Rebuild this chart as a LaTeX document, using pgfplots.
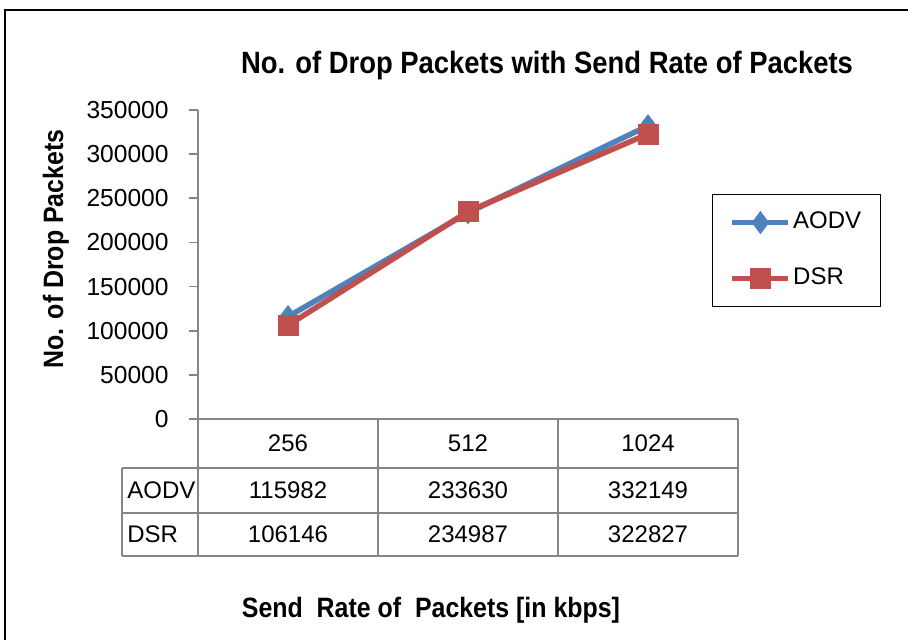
\documentclass[border=0pt]{standalone}
\usepackage{fontspec}
\setmainfont{Liberation Sans}
\newfontfamily\boldcond[FakeStretch=0.89]{Liberation Sans Bold}
\usepackage{pgfplots}
\pgfplotsset{compat=1.18}
\definecolor{aodv}{HTML}{4F81BD}
\definecolor{dsr}{HTML}{C0504D}
\definecolor{axgray}{HTML}{868686}
\begin{document}
\begin{tikzpicture}
\useasboundingbox (0pt,0pt) rectangle (454pt,-319.5pt);
\begin{scope}[x=0.5pt,y=-0.5pt]
  \draw[line width=1.2pt] (5,680)--(5,10)--(940,10);
  % title and labels
  \node[anchor=base,inner sep=0pt,font=\boldcond\fontsize{15.4}{18}\selectfont] at (547,73) {No. of Drop Packets with Send Rate of Packets};
  \node[anchor=base,inner sep=0pt,rotate=90,font=\boldcond\fontsize{14}{17}\selectfont] at (63,249) {No. of Drop Packets};
  \node[anchor=base,inner sep=0pt,font=\boldcond\fontsize{14}{17}\selectfont] at (431,617) {Send\ \ Rate of\ \ Packets [in kbps]};
  % data table grid
  \begin{scope}[draw=axgray,line width=0.9pt]
    \draw (198,419)--(738,419);
    \draw (122,468)--(738,468);
    \draw (122,513)--(738,513);
    \draw (122,556)--(738,556);
    \draw (122,468)--(122,556);
    \draw (198,419)--(198,556);
    \draw (378,419)--(378,556);
    \draw (558,419)--(558,556);
    \draw (738,419)--(738,556);
  \end{scope}
  \begin{scope}[every node/.style={font=\fontsize{12}{14}\selectfont,inner sep=0pt}]
    \node at (288,443.5) {256};
    \node at (468,443.5) {512};
    \node at (648,443.5) {1024};
    \node[anchor=west] at (127,490.5) {AODV};
    \node[anchor=west] at (127,534.5) {DSR};
    \node at (288,490.5) {115982};
    \node at (468,490.5) {233630};
    \node at (648,490.5) {332149};
    \node at (288,534.5) {106146};
    \node at (468,534.5) {234987};
    \node at (648,534.5) {322827};
  \end{scope}
\end{scope}
\begin{axis}[
  at={(99pt,-209.5pt)}, anchor=south west,
  scale only axis, width=270pt, height=154.5pt,
  xmin=0, xmax=3, ymin=0, ymax=350000,
  axis x line=none, axis y line*=left,
  y axis line style={axgray,line width=0.9pt},
  ytick={0,50000,...,350000},
  tick align=outside, major tick length=4.5pt,
  ytick style={axgray,line width=0.9pt},
  scaled y ticks=false,
  yticklabel={\pgfmathprintnumber[fixed,precision=0,1000 sep={},assume math mode=true]{\tick}},
  yticklabel style={font=\fontsize{12.3}{14}\selectfont,inner sep=0pt,xshift=-10pt},
  clip=false,
  legend style={at={(0.952,0.7282)}, anchor=north west, draw=black, line width=0.6pt,
    inner xsep=8.5pt, inner ysep=8pt, row sep=16pt,
    font=\fontsize{12}{14}\selectfont,
    nodes={inner xsep=1pt, inner ysep=0pt, text height=9pt, text depth=3pt},
    legend cell align=left},
  legend image code/.code={%
    \draw[mark repeat=2,mark phase=2,#1] plot coordinates {(0pt,0pt) (14pt,0pt) (28pt,0pt)};},
]
\addplot[aodv, line width=2.75pt, mark=diamond*, mark size=5.5pt,
  mark options={solid, fill=aodv, draw=aodv, line width=0.4pt}]
  coordinates {(0.5,115982) (1.5,233630) (2.5,332149)};
\addlegendentry{AODV}
\addplot[dsr, line width=2.75pt, mark=square*, mark size=5pt,
  mark options={solid, fill=dsr, draw=dsr, line width=0.4pt}]
  coordinates {(0.5,106146) (1.5,234987) (2.5,322827)};
\addlegendentry{DSR}
\end{axis}
\end{tikzpicture}
\end{document}
